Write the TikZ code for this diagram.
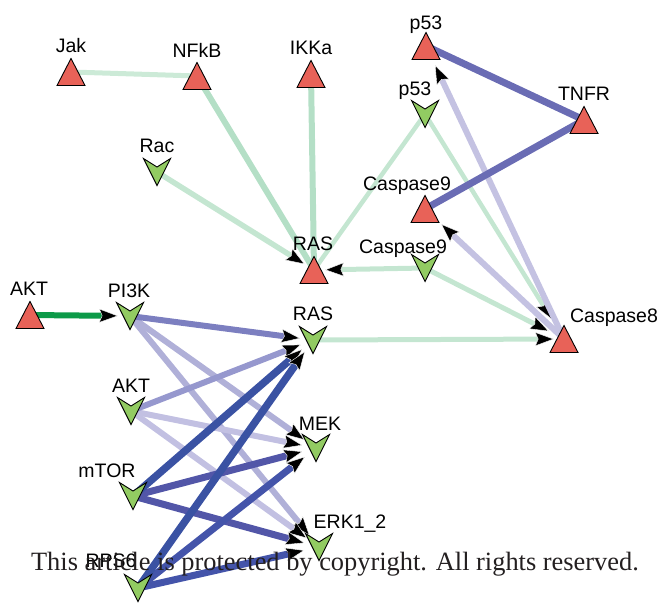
\documentclass[tikz,border=0pt]{standalone}
\usepackage{fontspec}
\setmainfont{Liberation Sans}
\newfontfamily\wmfont{Liberation Serif}
\usetikzlibrary{arrows.meta}
\definecolor{nodered}{RGB}{232,98,88}
\definecolor{nodegreen}{RGB}{146,203,98}
\definecolor{cJN}{RGB}{204,234,215}
\definecolor{cNR}{RGB}{180,223,198}
\definecolor{cLG}{RGB}{196,230,209}
\definecolor{cAKT}{RGB}{12,154,72}
\definecolor{cTN}{RGB}{106,108,180}
\definecolor{cLav}{RGB}{196,194,226}
\definecolor{cDk}{RGB}{58,82,163}
\definecolor{cMt}{RGB}{82,86,168}
\definecolor{cRp}{RGB}{68,84,170}
\definecolor{cPR}{RGB}{124,127,192}
\definecolor{cAR}{RGB}{150,152,206}
\definecolor{cPL}{RGB}{176,176,216}
\definecolor{cAL}{RGB}{194,192,226}
\definecolor{wmgray}{RGB}{35,31,32}
\begin{document}
\begin{tikzpicture}[x=1pt,y=-1pt,
  lbl/.style={anchor=base, inner sep=0pt, font=\fontsize{19.5}{22}\selectfont},
  edge/.style={line width=5.5pt},
  arr/.style={-{Stealth[length=19pt 0,width=14pt 0,inset=3pt 0,fill=black,color=white,line width=0.4pt]}},
  redtri/.pic={\filldraw[fill=nodered, draw=black, line width=0.9pt, line join=miter] (-14,13.5) -- (0,-13.5) -- (14,13.5) -- cycle;},
  greenv/.pic={\filldraw[fill=nodegreen, draw=black, line width=0.9pt, line join=miter] (-13.5,-13.5) -- (0,-5) -- (13.5,-13.5) -- (0,13.5) -- cycle;}
]
\useasboundingbox (0,0) rectangle (663,603);

% node positions
\coordinate (Jak) at (71,72);
\coordinate (NFkB) at (197,76);
\coordinate (IKKa) at (311,74);
\coordinate (p53r) at (426,46);
\coordinate (TNFR) at (584,120);
\coordinate (Casp9r) at (425,209);
\coordinate (RASr) at (314,270);
\coordinate (AKTr) at (30,315);
\coordinate (Casp8) at (564,339);
\coordinate (p53g) at (425,114);
\coordinate (Rac) at (157,172);
\coordinate (Casp9g) at (425,268);
\coordinate (PI3K) at (130,316);
\coordinate (RASg) at (313,340);
\coordinate (AKTg) at (131,411);
\coordinate (MEK) at (316,448);
\coordinate (mTOR) at (133,496);
\coordinate (ERK) at (319,547);
\coordinate (RPS6) at (138,588);

% edges, upper part
\draw[edge, cJN, line width=5pt] (Jak) -- (NFkB);
\draw[edge, cNR, line width=6pt] (NFkB) -- (RASr);
\draw[edge, cNR, line width=6pt] (IKKa) -- (RASr);
\draw[edge, cLG, arr, shorten >=11pt] (Rac) -- (RASr);
\draw[edge, cLG, line width=4.5pt] (RASr) -- (p53g);
\draw[edge, cLG, line width=5pt, arr, shorten >=11pt] (Casp9g) -- (RASr);
\draw[edge, cLG, line width=4.5pt, arr, shorten >=23pt] (p53g) -- (Casp8);
\draw[edge, cLG, line width=5pt, arr, shorten >=17pt] (Casp9g) -- (Casp8);
\draw[edge, cLG, line width=5pt, arr, shorten >=10pt] (RASg) -- (Casp8);
\draw[edge, cLav, line width=6pt, arr, shorten >=21pt] (Casp8) -- (p53r);
\draw[edge, cLav, line width=6pt, arr, shorten >=22pt] (Casp8) -- (Casp9r);
\draw[edge, cTN, line width=7pt] (p53r) -- (TNFR);
\draw[edge, cTN, line width=7pt] (TNFR) -- (Casp9r);

% edges, lower part
\draw[edge, cAKT, line width=6pt, arr, shorten >=12pt] (AKTr) -- (PI3K);
\draw[edge, cPL, line width=6pt, arr, shorten >=15pt] (PI3K) -- (ERK);
\draw[edge, cPL, line width=6pt, arr, shorten >=14pt] (PI3K) -- (MEK);
\draw[edge, cAL, line width=6pt, arr, shorten >=15pt] (AKTg) -- (ERK);
\draw[edge, cAL, line width=6pt, arr, shorten >=14pt] (AKTg) -- (MEK);
\draw[edge, cPR, line width=6pt, arr, shorten >=13pt] (PI3K) -- (RASg);
\draw[edge, cAR, line width=6pt, arr, shorten >=13pt] (AKTg) -- (RASg);
\draw[edge, cMt, line width=7pt, arr, shorten >=14pt] (mTOR) -- (MEK);
\draw[edge, cMt, line width=7pt, arr, shorten >=15pt] (mTOR) -- (ERK);
\draw[edge, cRp, line width=7pt, arr, shorten >=14pt] (RPS6) -- (MEK);
\draw[edge, cRp, line width=7pt, arr, shorten >=15pt] (RPS6) -- (ERK);
\draw[edge, cDk, line width=7.5pt, arr, shorten >=14pt] (mTOR) -- (RASg);
\draw[edge, cDk, line width=7.5pt, arr, shorten >=14pt] (RPS6) -- (RASg);

% node shapes
\foreach \n in {Jak,NFkB,IKKa,p53r,TNFR,Casp9r,RASr,AKTr,Casp8}
  \pic at (\n) {redtri};
\foreach \n in {p53g,Rac,Casp9g,PI3K,RASg,AKTg,MEK,mTOR,ERK,RPS6}
  \pic at (\n) {greenv};

% labels
\node[lbl] (Jak-l) at (71,52) {Jak};
\node[lbl] (NFkB-l) at (197,57) {NFkB};
\node[lbl] (IKKa-l) at (311,54) {IKKa};
\node[lbl] (p53r-l) at (426,29) {p53};
\node[lbl] (p53g-l) at (415,95) {p53};
\node[lbl] (TNFR-l) at (584,100) {TNFR};
\node[lbl] (Rac-l) at (157,152) {Rac};
\node[lbl] (Casp9r-l) at (407,190) {Caspase9};
\node[lbl] (RASr-l) at (313,250) {RAS};
\node[lbl] (Casp9g-l) at (403,253) {Caspase9};
\node[lbl] (Casp8-l) at (614,322) {Caspase8};
\node[lbl] (AKTr-l) at (29,295) {AKT};
\node[lbl] (PI3K-l) at (129,297) {PI3K};
\node[lbl] (RASg-l) at (313,320) {RAS};
\node[lbl] (AKTg-l) at (131,392) {AKT};
\node[lbl] (MEK-l) at (320,430) {MEK};
\node[lbl] (mTOR-l) at (107,477) {mTOR};
\node[lbl] (ERK-l) at (350,528) {ERK1\_2};
\node[lbl] (RPS6-l) at (111,567) {RPS6};

% watermark (overlaps the RPS6 label, as in the original)
\node[anchor=base, inner sep=0pt, text=wmgray, font=\wmfont\fontsize{26.4}{30}\selectfont] (wm) at (335,570) {This article is protected by copyright. All rights reserved.};
\end{tikzpicture}
\end{document}
